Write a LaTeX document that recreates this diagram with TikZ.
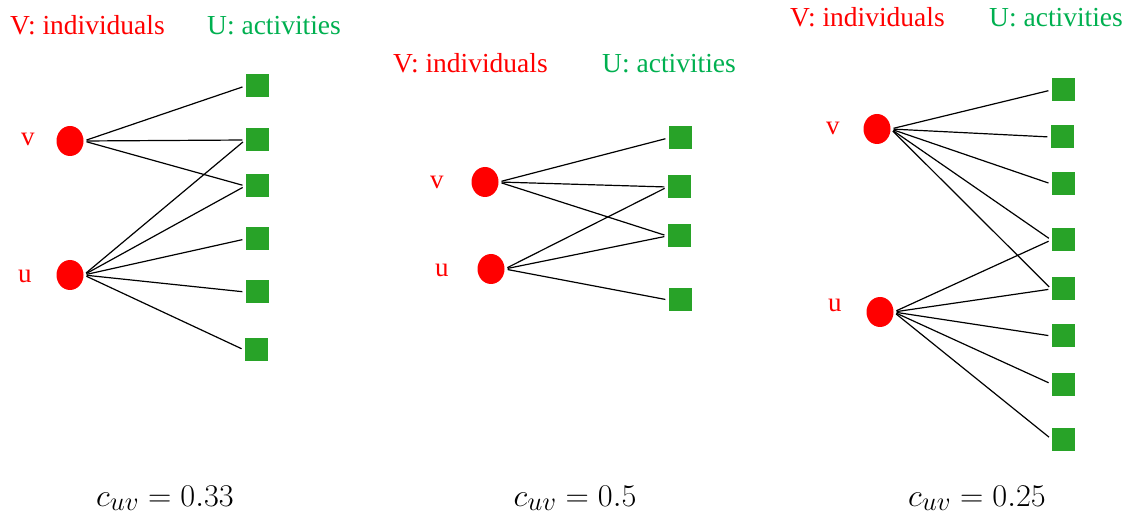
\documentclass[tikz,border=0pt]{standalone}
\usepackage{fontspec}
\setmainfont{Liberation Serif}
\usetikzlibrary{shapes.geometric}
\definecolor{vred}{RGB}{255,0,0}
\definecolor{ugreen}{RGB}{0,176,80}
\definecolor{sqgreen}{RGB}{40,163,40}
\tikzset{
  person/.style={ellipse,fill=vred,draw=none,minimum width=27,minimum height=30,inner sep=0},
  activity/.style={rectangle,fill=sqgreen,draw=none,minimum size=23,inner sep=0},
  lbl/.style={anchor=base west,inner sep=0,font=\rmfamily\fontsize{27.5}{32}\selectfont},
  vtitle/.style={lbl,text=vred},
  utitle/.style={lbl,text=ugreen},
  nlbl/.style={anchor=base west,inner sep=0,text=vred,font=\rmfamily\fontsize{27}{32}\selectfont},
  formula/.style={anchor=base,inner sep=0,font=\fontsize{24.88}{30}\selectfont},
  link/.style={black,line width=1.2pt,shorten <=3pt,shorten >=3pt}
}
\newcommand{\cuv}[1]{\scalebox{1.3}[1.27]{$c_{uv}=#1$}}
\begin{document}
\begin{tikzpicture}[x=1pt,y=-1pt]
\useasboundingbox (0,0) rectangle (1132,518);
% ---------- panel 1 ----------
\node[vtitle] (t1v) at (10,35) {V: individuals};
\node[utitle] (t1u) at (207,35) {U: activities};
\node[nlbl] (l1v) at (21,146) {v};
\node[nlbl] (l1u) at (18,283) {u};
\node[person] (p1v) at (70,141) {};
\node[person] (p1u) at (70,275) {};
\node[activity] (a11) at (257,86) {};
\node[activity] (a12) at (257,140) {};
\node[activity] (a13) at (257,186) {};
\node[activity] (a14) at (257,239) {};
\node[activity] (a15) at (257,292) {};
\node[activity] (a16) at (256,350) {};
\foreach \a in {a11,a12,a13} \draw[link] (p1v.east) -- (\a.west);
\foreach \a in {a12,a13,a14,a15,a16} \draw[link] (p1u.east) -- (\a.west);
\node[formula] (f1) at (165,506) {\cuv{0.33}};
% ---------- panel 2 ----------
\node[vtitle] (t2v) at (393,73) {V: individuals};
\node[utitle] (t2u) at (602,73) {U: activities};
\node[nlbl] (l2v) at (430,189) {v};
\node[nlbl] (l2u) at (435,277) {u};
\node[person] (p2v) at (485,182) {};
\node[person] (p2u) at (491,269) {};
\node[activity] (a21) at (680,138) {};
\node[activity] (a22) at (679,187) {};
\node[activity] (a23) at (679,236) {};
\node[activity] (a24) at (680,300) {};
\foreach \a in {a21,a22,a23} \draw[link] (p2v.east) -- (\a.west);
\foreach \a in {a22,a23,a24} \draw[link] (p2u.east) -- (\a.west);
\node[formula] (f2) at (575,506) {\cuv{0.5}};
% ---------- panel 3 ----------
\node[vtitle] (t3v) at (790,27) {V: individuals};
\node[utitle] (t3u) at (989,27) {U: activities};
\node[nlbl] (l3v) at (826,135) {v};
\node[nlbl] (l3u) at (828,312) {u};
\node[person] (p3v) at (877,129) {};
\node[person] (p3u) at (880,312) {};
\node[activity] (a31) at (1063,90) {};
\node[activity] (a32) at (1062,137) {};
\node[activity] (a33) at (1063,184) {};
\node[activity] (a34) at (1063,240) {};
\node[activity] (a35) at (1063,289) {};
\node[activity] (a36) at (1063,336) {};
\node[activity] (a37) at (1063,384) {};
\node[activity] (a38) at (1063,439) {};
\foreach \a in {a31,a32,a33,a34,a35} \draw[link] (p3v.east) -- (\a.west);
\foreach \a in {a34,a35,a36,a37,a38} \draw[link] (p3u.east) -- (\a.west);
\node[formula] (f3) at (977,506) {\cuv{0.25}};
\end{tikzpicture}
\end{document}
